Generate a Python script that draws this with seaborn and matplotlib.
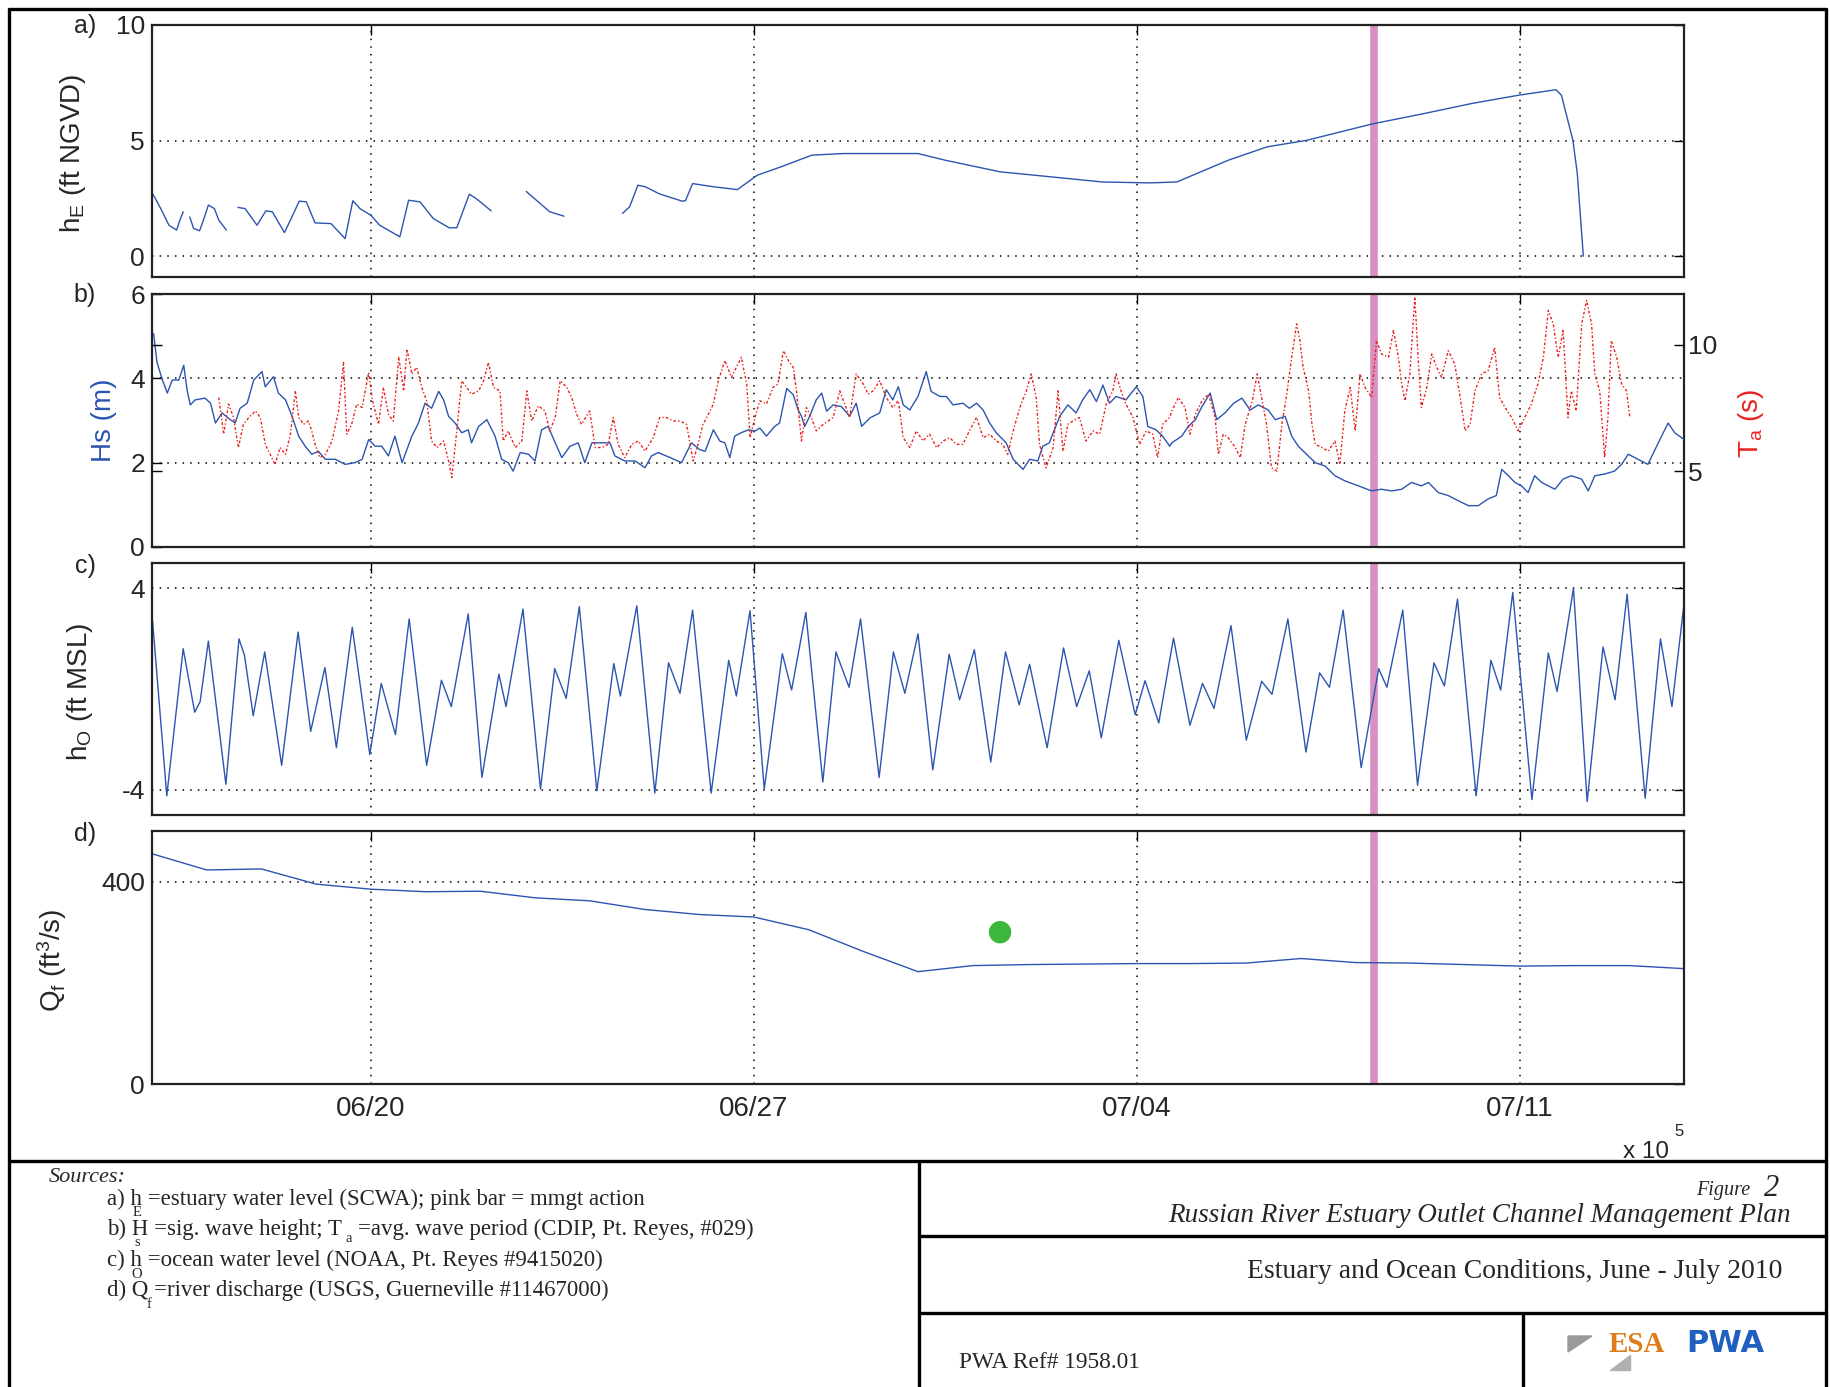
import matplotlib.pyplot as plt
import numpy as np
import pandas as pd
import seaborn as sns
from matplotlib.lines import Line2D
from matplotlib.patches import Polygon

# ---------------------------------------------------------------
# Data (x = days since 06/16/2010 00:00)
# ---------------------------------------------------------------
tick_days = [4, 11, 18, 25]
tick_labels = ["06/20", "06/27", "07/04", "07/11"]
mgmt_day = 22.33

# a) estuary water level hE (ft NGVD), gaps between segments
he_days = [
    [0.02, 0.16, 0.31, 0.45, 0.51, 0.57],
    [0.69, 0.76, 0.87, 0.94, 1.03, 1.14, 1.22, 1.36],
    [1.57, 1.70, 1.92, 2.08, 2.20, 2.42, 2.53, 2.69, 2.82, 2.98, 3.27, 3.53,
     3.67, 3.80, 4.00, 4.16, 4.53, 4.69, 4.90, 5.14, 5.43, 5.57, 5.80, 5.92, 6.20],
    [6.84, 7.27, 7.53],
    [8.60, 8.73, 8.88, 9.02, 9.27, 9.69, 9.75, 9.88, 10.27, 10.70, 11.06, 11.49,
     12.06, 12.64, 14.00, 14.50, 15.50, 16.44, 17.37, 18.23, 18.73, 19.67, 20.38,
     21.10, 22.32, 23.25, 24.11, 24.97, 25.66, 25.76, 25.97, 26.05, 26.16],
]
he_vals = [
    [2.67, 2.06, 1.34, 1.13, 1.56, 1.92],
    [1.70, 1.20, 1.10, 1.56, 2.21, 2.06, 1.56, 1.13],
    [2.11, 2.06, 1.34, 1.96, 1.92, 1.02, 1.56, 2.38, 2.35, 1.44, 1.41, 0.76,
     2.40, 2.06, 1.77, 1.34, 0.84, 2.42, 2.35, 1.63, 1.23, 1.23, 2.68, 2.50, 1.96],
    [2.80, 1.92, 1.73],
    [1.85, 2.14, 3.07, 3.00, 2.70, 2.38, 2.40, 3.14, 3.00, 2.88, 3.50, 3.86,
     4.37, 4.44, 4.44, 4.15, 3.65, 3.43, 3.21, 3.17, 3.21, 4.15, 4.73,
     5.01, 5.73, 6.17, 6.60, 6.96, 7.20, 6.96, 5.01, 3.57, 0.00],
]

# b) significant wave height Hs (m)
hs_days = [
    0.03, 0.09, 0.18, 0.28, 0.37, 0.49, 0.58, 0.64, 0.70, 0.79, 0.97, 1.07, 1.16,
    1.28, 1.43, 1.52, 1.61, 1.74, 1.86, 2.01, 2.07, 2.22, 2.31, 2.44, 2.56, 2.68,
    2.80, 2.92, 3.04, 3.17, 3.35, 3.53, 3.71, 3.84, 3.96, 4.08, 4.20, 4.32, 4.44,
    4.57, 4.75, 4.87, 4.99, 5.11, 5.24, 5.33, 5.42, 5.54, 5.66, 5.78, 5.84, 5.97,
    6.12, 6.27, 6.39, 6.51, 6.60, 6.73, 6.88, 7.00, 7.12, 7.24, 7.37, 7.49, 7.64,
    7.79, 7.91, 8.04, 8.22, 8.37, 8.46, 8.64, 8.83, 9.01, 9.13, 9.25,
    9.47, 9.68, 9.77, 9.86, 10.01, 10.11, 10.26, 10.38, 10.47, 10.56, 10.65, 10.77,
    10.90, 11.02, 11.11, 11.23, 11.38, 11.47, 11.60, 11.72, 11.81, 11.87, 11.93,
    12.02, 12.14, 12.24, 12.33, 12.45, 12.60, 12.75, 12.87, 12.97, 13.12, 13.30,
    13.42, 13.54, 13.64, 13.73, 13.85, 14.00, 14.15, 14.24, 14.40, 14.52, 14.64,
    14.82, 14.94, 15.07, 15.19, 15.31, 15.43, 15.61, 15.74, 15.92, 16.04, 16.19,
    16.28, 16.40, 16.59, 16.74, 16.89, 17.01, 17.14, 17.26, 17.38, 17.50, 17.62,
    17.80, 17.99, 18.11, 18.20, 18.35, 18.47, 18.60,
    18.64, 18.82, 18.94, 19.07, 19.19, 19.34, 19.46, 19.61, 19.77, 19.92, 20.07,
    20.22, 20.40, 20.53, 20.71, 20.83, 20.95, 21.07, 21.26, 21.44, 21.62, 21.80,
    22.05, 22.29, 22.47, 22.66, 22.84, 23.02, 23.20, 23.33, 23.51, 23.69, 23.87,
    24.06, 24.24, 24.42, 24.57, 24.67, 24.79, 24.91, 25.03, 25.15, 25.27, 25.40,
    25.52, 25.64, 25.79, 25.94, 26.13, 26.25, 26.37, 26.55, 26.73, 26.86, 26.98,
    27.10, 27.22, 27.34, 27.47, 27.59, 27.71, 27.83, 28.00,
]
hs_vals = [
    5.06, 4.39, 4.00, 3.65, 3.96, 3.96, 4.31, 3.73, 3.37, 3.49, 3.53, 3.41, 2.94,
    3.18, 3.02, 2.94, 3.29, 3.41, 3.96, 4.16, 3.80, 4.04, 3.65, 3.49, 3.10, 2.63,
    2.39, 2.20, 2.27, 2.08, 2.08, 1.96, 2.00, 2.08, 2.55, 2.39, 2.39, 2.16, 2.63,
    2.00, 2.63, 2.94, 3.41, 3.29, 3.69, 3.49, 3.10, 2.94, 2.71, 2.78, 2.47, 2.86,
    3.02, 2.63, 2.08, 2.00, 1.80, 2.24, 2.20, 2.04, 2.78, 2.86, 2.47, 2.12, 2.39,
    2.47, 2.00, 2.47, 2.47, 2.47, 2.16, 2.04, 2.04, 1.88, 2.16, 2.24,
    2.12, 2.00, 2.24, 2.47, 2.31, 2.27, 2.78, 2.51, 2.47, 2.12, 2.63, 2.71,
    2.78, 2.75, 2.82, 2.63, 2.86, 2.94, 3.76, 3.61, 3.25, 3.10, 2.86,
    3.10, 3.49, 3.65, 3.22, 3.37, 3.33, 3.10, 3.41, 2.86, 3.06, 3.18,
    3.73, 3.49, 3.80, 3.37, 3.25, 3.57, 4.16, 3.69, 3.57, 3.57, 3.37,
    3.41, 3.29, 3.41, 3.25, 2.94, 2.71, 2.47, 2.08, 1.84, 2.08, 2.04,
    2.39, 2.47, 3.10, 3.37, 3.18, 3.49, 3.73, 3.45, 3.84, 3.41, 3.57,
    3.49, 3.80, 3.57, 2.86, 2.78, 2.63, 2.39,
    2.47, 2.63, 2.86, 3.02, 3.33, 3.65, 3.02, 3.18, 3.41, 3.53, 3.25,
    3.37, 3.25, 3.02, 3.10, 2.63, 2.39, 2.24, 2.00, 1.92, 1.69, 1.57,
    1.45, 1.33, 1.37, 1.33, 1.37, 1.53, 1.45, 1.53, 1.29, 1.22, 1.10,
    0.98, 0.98, 1.14, 1.22, 1.84, 1.69, 1.53, 1.45, 1.29, 1.69, 1.53,
    1.45, 1.37, 1.61, 1.69, 1.61, 1.33, 1.69, 1.73, 1.80, 1.96, 2.20,
    2.12, 2.04, 1.96, 2.31, 2.63, 2.94, 2.71, 2.55,
]

# b) average wave period Ta (s)
ta_days = [
    1.22, 1.31, 1.40, 1.49, 1.58, 1.67, 1.77, 1.89, 1.98, 2.07, 2.16, 2.25, 2.34,
    2.44, 2.53, 2.62, 2.68, 2.77, 2.86, 2.92, 2.98, 3.07, 3.17, 3.29, 3.41, 3.50,
    3.56, 3.65, 3.74, 3.84, 3.96, 4.03, 4.14, 4.23, 4.32, 4.41, 4.51, 4.60, 4.66,
    4.75, 4.84, 4.93, 5.02, 5.11, 5.21, 5.33, 5.42, 5.48, 5.57, 5.66, 5.75, 5.84,
    5.97, 6.06, 6.15, 6.24, 6.36, 6.42, 6.51, 6.64, 6.76, 6.85, 6.94, 7.06, 7.18,
    7.27, 7.37, 7.46, 7.58, 7.67, 7.76, 7.85, 8.00, 8.10, 8.22, 8.34, 8.43, 8.52,
    8.64, 8.77, 8.89, 9.01, 9.16, 9.28, 9.40,
    9.53, 9.65, 9.77, 9.89, 9.98, 10.07, 10.17, 10.26, 10.35, 10.47, 10.59, 10.68,
    10.77, 10.87, 10.93, 11.02, 11.11, 11.23, 11.35, 11.44, 11.54, 11.63, 11.72,
    11.78, 11.87, 11.96, 12.05, 12.14, 12.27, 12.36, 12.45, 12.57, 12.66, 12.75,
    12.87, 13.00, 13.09, 13.18, 13.30, 13.42, 13.54, 13.64, 13.73, 13.85, 13.97,
    14.09, 14.21, 14.34, 14.46, 14.58, 14.70, 14.82, 14.94, 15.07, 15.19, 15.31,
    15.43, 15.55, 15.64, 15.74, 15.86, 15.98, 16.07, 16.16, 16.22, 16.34, 16.47,
    16.56, 16.65, 16.74, 16.83, 16.95, 17.07, 17.20, 17.32, 17.44, 17.56, 17.62,
    17.71, 17.80, 17.93, 18.05, 18.17, 18.29, 18.38, 18.47, 18.60,
    18.64, 18.76, 18.88, 18.97, 19.07, 19.19, 19.31, 19.43, 19.49, 19.58, 19.67,
    19.80, 19.89, 19.98, 20.11, 20.20, 20.28, 20.37, 20.46, 20.56, 20.65, 20.74,
    20.83, 20.92, 20.98, 21.04, 21.14, 21.20, 21.26, 21.38, 21.50, 21.62, 21.71,
    21.80, 21.90, 21.99, 22.08, 22.17, 22.29, 22.38, 22.47, 22.60, 22.69, 22.78,
    22.84, 22.90, 22.99, 23.08, 23.14, 23.20, 23.30, 23.39, 23.48, 23.57, 23.69,
    23.81, 23.90, 24.00, 24.09, 24.18, 24.30, 24.42, 24.54, 24.63, 24.73, 24.85,
    24.97, 25.09, 25.21, 25.33, 25.43, 25.52, 25.61, 25.70, 25.79, 25.88, 25.94,
    26.03, 26.13, 26.22, 26.31, 26.37, 26.46, 26.55, 26.61, 26.67, 26.77, 26.86,
    26.95, 27.01,
]
ta_vals = [
    7.91, 6.46, 7.65, 7.12, 5.93, 6.85, 7.12, 7.38, 7.12, 6.06, 5.66, 5.26, 5.93,
    5.66, 6.46, 8.17, 7.12, 6.85, 6.98, 6.59, 6.06, 5.53, 5.66, 6.19, 7.38, 9.30,
    6.46, 6.85, 7.65, 7.51, 8.90, 7.78, 6.85, 8.31, 7.25, 6.98, 9.50, 8.17, 9.83,
    8.84, 9.10, 8.31, 7.78, 6.19, 5.93, 6.19, 5.40, 4.74, 6.59, 8.57, 8.31, 8.04,
    8.17, 8.57, 9.30, 8.31, 8.17, 6.19, 6.59, 5.93, 6.19, 8.17, 6.98, 7.58, 7.38,
    6.59, 7.12, 8.57, 8.31, 7.91, 7.25, 6.85, 7.38, 5.93, 5.93, 6.06, 7.12, 6.06,
    5.53, 6.06, 6.19, 5.79, 6.32, 7.12, 7.12,
    6.98, 6.98, 6.85, 5.40, 6.06, 6.85, 7.25, 7.65, 8.57, 9.37, 8.70, 9.10,
    9.50, 8.44, 6.32, 7.12, 7.78, 7.65, 8.31, 8.44, 9.76, 9.37, 9.10,
    8.17, 6.19, 7.51, 7.12, 6.59, 6.85, 6.98, 7.12, 8.17, 7.65, 7.12,
    8.84, 8.44, 8.04, 8.17, 8.57, 7.91, 7.51, 7.78, 6.32, 5.93, 6.59,
    6.19, 6.46, 5.93, 6.19, 6.32, 6.06, 6.06, 6.59, 7.12, 6.32, 6.46,
    6.19, 6.06, 5.66, 6.59, 7.51, 8.17, 8.84, 7.91, 6.06, 5.13, 5.93,
    8.17, 5.79, 6.85, 6.98, 7.12, 6.19, 6.59, 6.46, 7.65, 8.17, 8.84,
    8.17, 7.65, 7.12, 6.06, 6.59, 6.46, 5.53, 6.85, 7.12,
    7.38, 7.91, 7.51, 6.46, 7.25, 7.78, 8.04, 7.12, 5.66, 6.46, 6.32,
    5.93, 5.53, 6.85, 7.78, 8.84, 7.91, 6.85, 5.13, 5.00, 6.85, 8.04,
    9.50, 10.82, 10.16, 9.10, 8.17, 6.85, 6.06, 5.93, 5.79, 6.19, 5.26,
    7.38, 8.31, 6.59, 8.84, 8.31, 7.91, 10.16, 9.63, 9.50, 10.56, 9.50,
    8.44, 7.78, 8.84, 11.88, 9.50, 7.51, 8.31, 9.63, 9.10, 8.70, 9.76,
    9.23, 8.04, 6.59, 6.85, 8.17, 8.84, 8.97, 9.89, 7.91, 7.51, 7.12,
    6.59, 7.12, 7.65, 8.44, 9.50, 11.35, 10.82, 9.50, 10.56, 7.12, 8.17,
    7.38, 10.82, 11.75, 10.82, 8.84, 8.17, 5.53, 7.12, 10.16, 9.50, 8.44,
    8.17, 7.12,
]

# c) ocean water level hO (ft MSL), tidal highs and lows
ho_days = [
    0.01, 0.27, 0.57, 0.78, 0.88, 1.03, 1.35, 1.59, 1.69, 1.85, 2.06, 2.37, 2.67,
    2.90, 3.16, 3.37, 3.66, 3.98, 4.19, 4.45, 4.70, 5.02, 5.29, 5.47, 5.78, 6.03,
    6.34, 6.47, 6.78, 7.10, 7.36, 7.57, 7.81, 8.13, 8.44, 8.56, 8.86, 9.19, 9.44,
    9.65, 9.88, 10.22, 10.54, 10.68, 10.93, 11.19, 11.52, 11.69, 11.95, 12.26,
    12.50, 12.74, 12.95, 13.29, 13.55, 13.76, 14.00, 14.27, 14.57, 14.76, 15.03,
    15.33, 15.60, 15.85, 16.04, 16.36, 16.66, 16.90, 17.13, 17.35, 17.67, 17.97,
    18.15, 18.40, 18.67, 18.97, 19.20, 19.41, 19.72, 20.00, 20.28, 20.47, 20.76,
    21.09, 21.34, 21.52, 21.77, 22.10, 22.42, 22.57, 22.86, 23.13, 23.43, 23.62,
    23.86, 24.20, 24.47, 24.65, 24.87, 25.22, 25.52, 25.68, 25.98, 26.23, 26.52,
    26.74, 26.96, 27.29, 27.57, 27.78, 28.00,
]
ho_vals = [
    2.71, -4.24, 1.60, -0.92, -0.50, 1.90, -3.78, 1.99, 1.34, -1.06, 1.47, -3.03,
    2.26, -1.68, 0.85, -2.33, 2.45, -2.60, 0.22, -1.81, 2.78, -3.03, 0.35, -0.70,
    2.98, -3.51, 0.59, -0.70, 3.17, -3.97, 0.81, -0.37, 3.27, -4.04, 1.01, -0.28,
    3.30, -4.13, 1.04, -0.17, 3.13, -4.13, 1.14, -0.28, 3.11, -3.97, 1.40, -0.04,
    3.04, -3.69, 1.47, 0.07, 2.78, -3.51, 1.47, -0.17, 2.19, -3.21, 1.38, -0.43,
    1.56, -2.90, 1.47, -0.63, 0.98, -2.33, 1.63, -0.70, 0.72, -1.94, 1.93, -1.02,
    0.33, -1.35, 2.02, -1.44, 0.22, -0.77, 2.52, -2.03, 0.31, -0.21, 2.78, -2.50,
    0.64, 0.07, 3.13, -3.12, 0.81, 0.07, 3.13, -3.82, 1.04, 0.12, 3.57, -4.24,
    1.14, -0.04, 3.83, -4.39, 1.43, -0.10, 4.00, -4.47, 1.67, -0.43, 3.76, -4.34,
    1.99, -0.70, 3.37,
]

# d) river discharge Qf (ft^3/s), daily
qf_days = list(range(29))
qf_vals = [455, 423, 425, 395, 385, 380, 381, 368, 362, 345, 335, 330, 305, 262,
           222, 234, 236, 237, 238, 238, 239, 248, 240, 239, 236, 233, 234, 234, 228]
qf_obs_day = [15.5]
qf_obs_val = [300]

BLUE = "#2c55b0"
RED = "#e8231e"
PINK = "#d88fc1"

# ---------------------------------------------------------------
# Figure
# ---------------------------------------------------------------
sns.set_theme(style="white")
plt.rcParams["font.family"] = ["Liberation Sans", "DejaVu Sans"]
plt.rcParams["mathtext.default"] = "regular"
plt.rcParams["axes.unicode_minus"] = False

W, H = 1831, 1387
fig = plt.figure(figsize=(W / 100, H / 100), dpi=100)
fig.patch.set_facecolor("white")


def fx(px):
    return px / W


def fy(py):
    return 1 - py / H


def make_ax(top, bottom):
    return fig.add_axes([fx(152), fy(bottom), fx(1684) - fx(152), (bottom - top) / H])


ax_a = make_ax(25, 277)
ax_b = make_ax(294, 547)
ax_c = make_ax(563, 815)
ax_d = make_ax(831, 1084)
axes = [ax_a, ax_b, ax_c, ax_d]

grid_kw = dict(color="black", linestyle=(0, (1, 4)), linewidth=1.1)


def style_axis(ax, yticks, show_x=False):
    ax.set_xlim(0, 28)
    ax.set_xticks(tick_days)
    ax.set_xticklabels(tick_labels if show_x else [])
    ax.set_yticks(yticks)
    ax.tick_params(axis="both", direction="in", length=7, width=1.0, color="black",
                   top=True, right=True, labelsize=19, pad=5)
    ax.tick_params(axis="x", labelsize=20, pad=9)
    ax.grid(True, **grid_kw)
    for s in ax.spines.values():
        s.set_color("#222222")
        s.set_linewidth(1.6)
    ax.set_xlabel("")
    ax.set_ylabel("")


# a) estuary level
he_df = pd.DataFrame({
    "day": [d for seg in he_days for d in seg],
    "val": [v for seg in he_vals for v in seg],
    "seg": [i for i, seg in enumerate(he_days) for _ in seg],
})
sns.lineplot(data=he_df, x="day", y="val", units="seg", estimator=None, sort=False,
             color=BLUE, linewidth=1.0, ax=ax_a)
ax_a.set_ylim(-0.9, 10)
style_axis(ax_a, [0, 5, 10])
ax_a.set_ylabel("h$_E$ (ft NGVD)", fontsize=20)
ax_a.yaxis.set_label_coords(-0.042, 0.49)

# b) wave height and period
sns.lineplot(x=hs_days, y=hs_vals, estimator=None, sort=False, color=BLUE,
             linewidth=1.0, ax=ax_b, zorder=3)
ax_b.set_ylim(0, 6)
style_axis(ax_b, [0, 2, 4, 6])
ax_b.set_ylabel("Hs (m)", fontsize=20, color=BLUE)
ax_b.yaxis.set_label_coords(-0.023, 0.50)

ax_b2 = ax_b.twinx()
sns.lineplot(x=ta_days, y=ta_vals, estimator=None, sort=False, color=RED,
             linewidth=1.0, linestyle=(0, (2, 1.5, 1, 1.5)), ax=ax_b2, zorder=2)
ax_b2.set_ylim(2, 12)
ax_b2.set_xlim(0, 28)
ax_b2.set_yticks([5, 10])
ax_b2.tick_params(axis="y", direction="in", length=7, width=1.0, color="black",
                  left=True, right=True, labelsize=19, pad=3)
ax_b2.grid(False)
for s in ax_b2.spines.values():
    s.set_visible(False)
ax_b2.set_ylabel("T$_a$ (s)", fontsize=20, color=RED, rotation=90)
ax_b2.yaxis.set_label_coords(1.034, 0.49)

# c) ocean level
sns.lineplot(x=ho_days, y=ho_vals, estimator=None, sort=False, color=BLUE,
             linewidth=1.0, ax=ax_c)
ax_c.set_ylim(-5, 5)
style_axis(ax_c, [-4, 4])
ax_c.set_ylabel("h$_O$ (ft MSL)", fontsize=20)
ax_c.yaxis.set_label_coords(-0.037, 0.49)

# d) river discharge
sns.lineplot(x=qf_days, y=qf_vals, estimator=None, sort=False, color=BLUE,
             linewidth=1.0, ax=ax_d)
sns.scatterplot(x=qf_obs_day, y=qf_obs_val, color="#3cb83c", s=260,
                edgecolor="none", ax=ax_d, zorder=4)
ax_d.set_ylim(0, 500)
style_axis(ax_d, [0, 400], show_x=True)
ax_d.set_ylabel("Q$_f$ (ft$^3$/s)", fontsize=20)
ax_d.yaxis.set_label_coords(-0.054, 0.49)

# management action (pink bar) across all panels
for ax in axes:
    ax.axvline(mgmt_day, color=PINK, linewidth=5.5, zorder=1)

# panel letters
for lab, py in zip(["a)", "b)", "c)", "d)"], [26, 295, 566, 834]):
    fig.text(fx(85), fy(py), lab, fontsize=18, ha="center", va="center")

# MATLAB-style exponent note
fig.text(fx(1623), fy(1152), "x 10", fontsize=17.5, ha="left", va="center")
fig.text(fx(1679), fy(1131), "5", fontsize=12, ha="center", va="center")

# ---------------------------------------------------------------
# Title block
# ---------------------------------------------------------------
lw_frame = 2.4


def fline(x0, y0, x1, y1):
    fig.add_artist(Line2D([fx(x0), fx(x1)], [fy(y0), fy(y1)], color="black",
                          linewidth=lw_frame, transform=fig.transFigure))


fline(9, 9, 1826, 9)
fline(9, 9, 9, 1387)
fline(1826, 9, 1826, 1387)
fline(9, 1161, 1826, 1161)
fline(919, 1161, 919, 1387)
fline(919, 1236, 1826, 1236)
fline(919, 1313, 1826, 1313)
fline(1523, 1313, 1523, 1387)

serif = ["Liberation Serif", "DejaVu Serif"]
fig.text(fx(49), fy(1177), "Sources:", family=serif, style="italic", fontsize=16,
         va="center")
src_lines = [
    ("a) h =estuary water level (SCWA); pink bar = mmgt action", 107, 1199),
    ("b) H =sig. wave height; T", 107, 1229),
    ("=avg. wave period (CDIP, Pt. Reyes, #029)", 358, 1229),
    ("c) h =ocean water level (NOAA, Pt. Reyes #9415020)", 107, 1260),
    ("d) Q =river discharge (USGS, Guerneville #11467000)", 107, 1290),
]
for txt, px, py in src_lines:
    fig.text(fx(px), fy(py), txt, family=serif, fontsize=16.5, va="center")
for sub, px, py in [("E", 137, 1213), ("s", 137, 1243), ("a", 349, 1239),
                    ("O", 137, 1274), ("f", 149, 1305)]:
    fig.text(fx(px), fy(py), sub, family=serif, fontsize=10.5, ha="center",
             va="center")

fig.text(fx(1750), fy(1190), "Figure", family=serif, style="italic", fontsize=14.5,
         ha="right", va="center")
fig.text(fx(1772), fy(1188), "2", family=serif, style="italic", fontsize=22,
         ha="center", va="center")
fig.text(fx(1791), fy(1216), "Russian River Estuary Outlet Channel Management Plan",
         family=serif, style="italic", fontsize=19.5, ha="right", va="center")
fig.text(fx(1782), fy(1272), "Estuary and Ocean Conditions, June - July 2010",
         family=serif, fontsize=20, ha="right", va="center")
fig.text(fx(959), fy(1362), "PWA Ref# 1958.01", family=serif, fontsize=16.8,
         ha="left", va="center")

# logo
fig.text(fx(1609), fy(1344), "ESA", family=serif, weight="bold", fontsize=21,
         color="#e07b1a", ha="left", va="center")
fig.text(fx(1686), fy(1344), "PWA", family=["DejaVu Sans"], weight="bold",
         fontsize=22, color="#1f5fbf", ha="left", va="center")
fig.add_artist(Polygon([[fx(1568), fy(1336)], [fx(1592), fy(1336)], [fx(1568), fy(1352)]],
                       closed=True, color="#9a9a9a", transform=fig.transFigure))
fig.add_artist(Polygon([[fx(1630), fy(1355)], [fx(1630), fy(1370)], [fx(1610), fy(1370)]],
                       closed=True, color="#b0b0b0", transform=fig.transFigure))

fig.savefig("out.png", dpi=100, facecolor="white")
plt.close(fig)
